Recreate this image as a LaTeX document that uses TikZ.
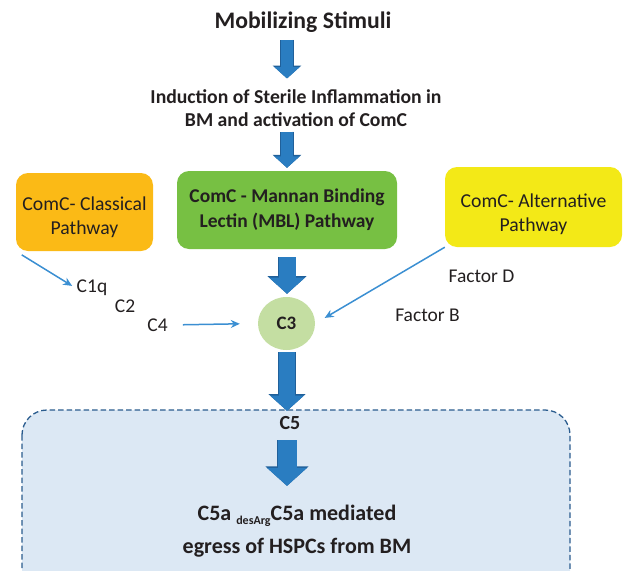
\documentclass[tikz,border=0pt]{standalone}
\usepackage{fontspec}
\setmainfont{Carlito}
\usepackage{tikz}
\usetikzlibrary{positioning, arrows.meta, shapes, calc}
\usepackage{xcolor}

\definecolor{txtdark}{HTML}{231F20}
\definecolor{classorange}{HTML}{FBBA16}
\definecolor{mblgreen}{HTML}{77C043}
\definecolor{altyellow}{HTML}{F3E917}
\definecolor{cthreegreen}{HTML}{C4DEA2}
\definecolor{effectfill}{HTML}{DCE8F4}
\definecolor{effectline}{HTML}{2A5C8E}
\definecolor{blockblue}{HTML}{2A7DC1}
\definecolor{blockedge}{HTML}{20609A}
\definecolor{thinblue}{HTML}{3B8FD2}

\begin{document}
\begin{tikzpicture}[x=1pt, y=-1pt,
  pathbox/.style={rounded corners=12pt, align=center, text=txtdark, inner sep=0pt},
  label/.style={text=txtdark, font=\fontsize{19.5}{22}\selectfont, inner sep=1pt},
  blockarrow/.style={draw=blockblue, line width=#1, -{Triangle[width=0pt 2.05, length=0pt 0.95]},
    preaction={draw=blockedge, line width=#1+1.6pt}},
  thinarrow/.style={draw=thinblue, line width=1.5pt, -{Stealth[length=9pt, width=8pt]}}]
\useasboundingbox (0,0) rectangle (623,570);

% effect region (bottom, cut off by the page)
\draw[effectline, fill=effectfill, line width=1.3pt, dash pattern=on 5.5pt off 3pt, rounded corners=25pt] (22,410) rectangle (570,600);

\coordinate (axis) at (287,0);

\node[text=txtdark, font=\bfseries\fontsize{23.7}{28}\selectfont] (stim) at (303,22) {Mobilizing Stimuli};
\node[text=txtdark, align=center, font=\bfseries\fontsize{19.7}{23}\selectfont] (induct) at (296,108.5) {Induction of Sterile Inflammation in\\BM and activation of ComC};

\node[pathbox, fill=classorange, minimum width=137pt, minimum height=78pt, font=\fontsize{19.7}{24}\selectfont] (classical) at (84.5,212) {\rule{0pt}{24pt}ComC- Classical\\Pathway};
\node[pathbox, fill=mblgreen, minimum width=220pt, minimum height=78pt, font=\bfseries\fontsize{19.5}{25}\selectfont] (mbl) at (287,210) {ComC - Mannan Binding\\Lectin (MBL) Pathway};
\node[pathbox, fill=altyellow, minimum width=177pt, minimum height=80pt, font=\fontsize{19.7}{24}\selectfont] (alt) at (533.5,207) {\rule{0pt}{28pt}ComC- Alternative\\Pathway};

\node[ellipse, fill=cthreegreen, minimum width=57pt, minimum height=53pt, inner sep=0pt, text=txtdark, font=\bfseries\fontsize{19}{21}\selectfont] (cthree) at (286.5,323.5) {C3};

\node[label] (cOneq) at (92,288) {C1q};
\node[label] (cTwo) at (125,306) {C2};
\node[label] (cFour) at (157.5,325) {C4};
\node[label] (factD) at (481.5,276.5) {Factor D};
\node[label] (factB) at (427.5,315) {Factor B};

\node[text=txtdark, font=\bfseries\fontsize{20}{22}\selectfont] (cFive) at (290,423) {C5};
\node[text=txtdark, align=center, font=\bfseries\fontsize{22}{33}\selectfont] (egress) at (297,531.5) {C5a \raisebox{-4pt}{\fontsize{12}{14}\selectfont desArg}C5a mediated\\egress of HSPCs from BM};

% main cascade
\draw[blockarrow=12pt, shorten <=4pt, shorten >=8pt] (stim.south -| axis) -- (induct.north -| axis);
\draw[blockarrow=12pt, shorten <=1pt, shorten >=3pt] (induct.south -| axis) -- (mbl.north -| axis);
\draw[blockarrow=17pt, shorten <=8pt, shorten >=3pt] (mbl.south -| axis) -- (cthree.north -| axis);
\draw[blockarrow=16pt, shorten <=2pt, shorten >=2pt] (cthree.south -| axis) -- (cFive.north -| axis);
\draw[blockarrow=19pt, shorten <=7pt, shorten >=16pt] (cFive.south -| axis) -- (egress.north -| axis);

% side routes into C3
\draw[thinarrow, shorten <=7pt, shorten >=4pt] (classical.south west) -- (cOneq.west);
\draw[thinarrow, shorten <=14pt, shorten >=18pt] (cFour.east) -- (cthree.west);
\draw[thinarrow, shorten >=11pt] (alt.south west) -- (cthree.east);
\end{tikzpicture}
\end{document}
